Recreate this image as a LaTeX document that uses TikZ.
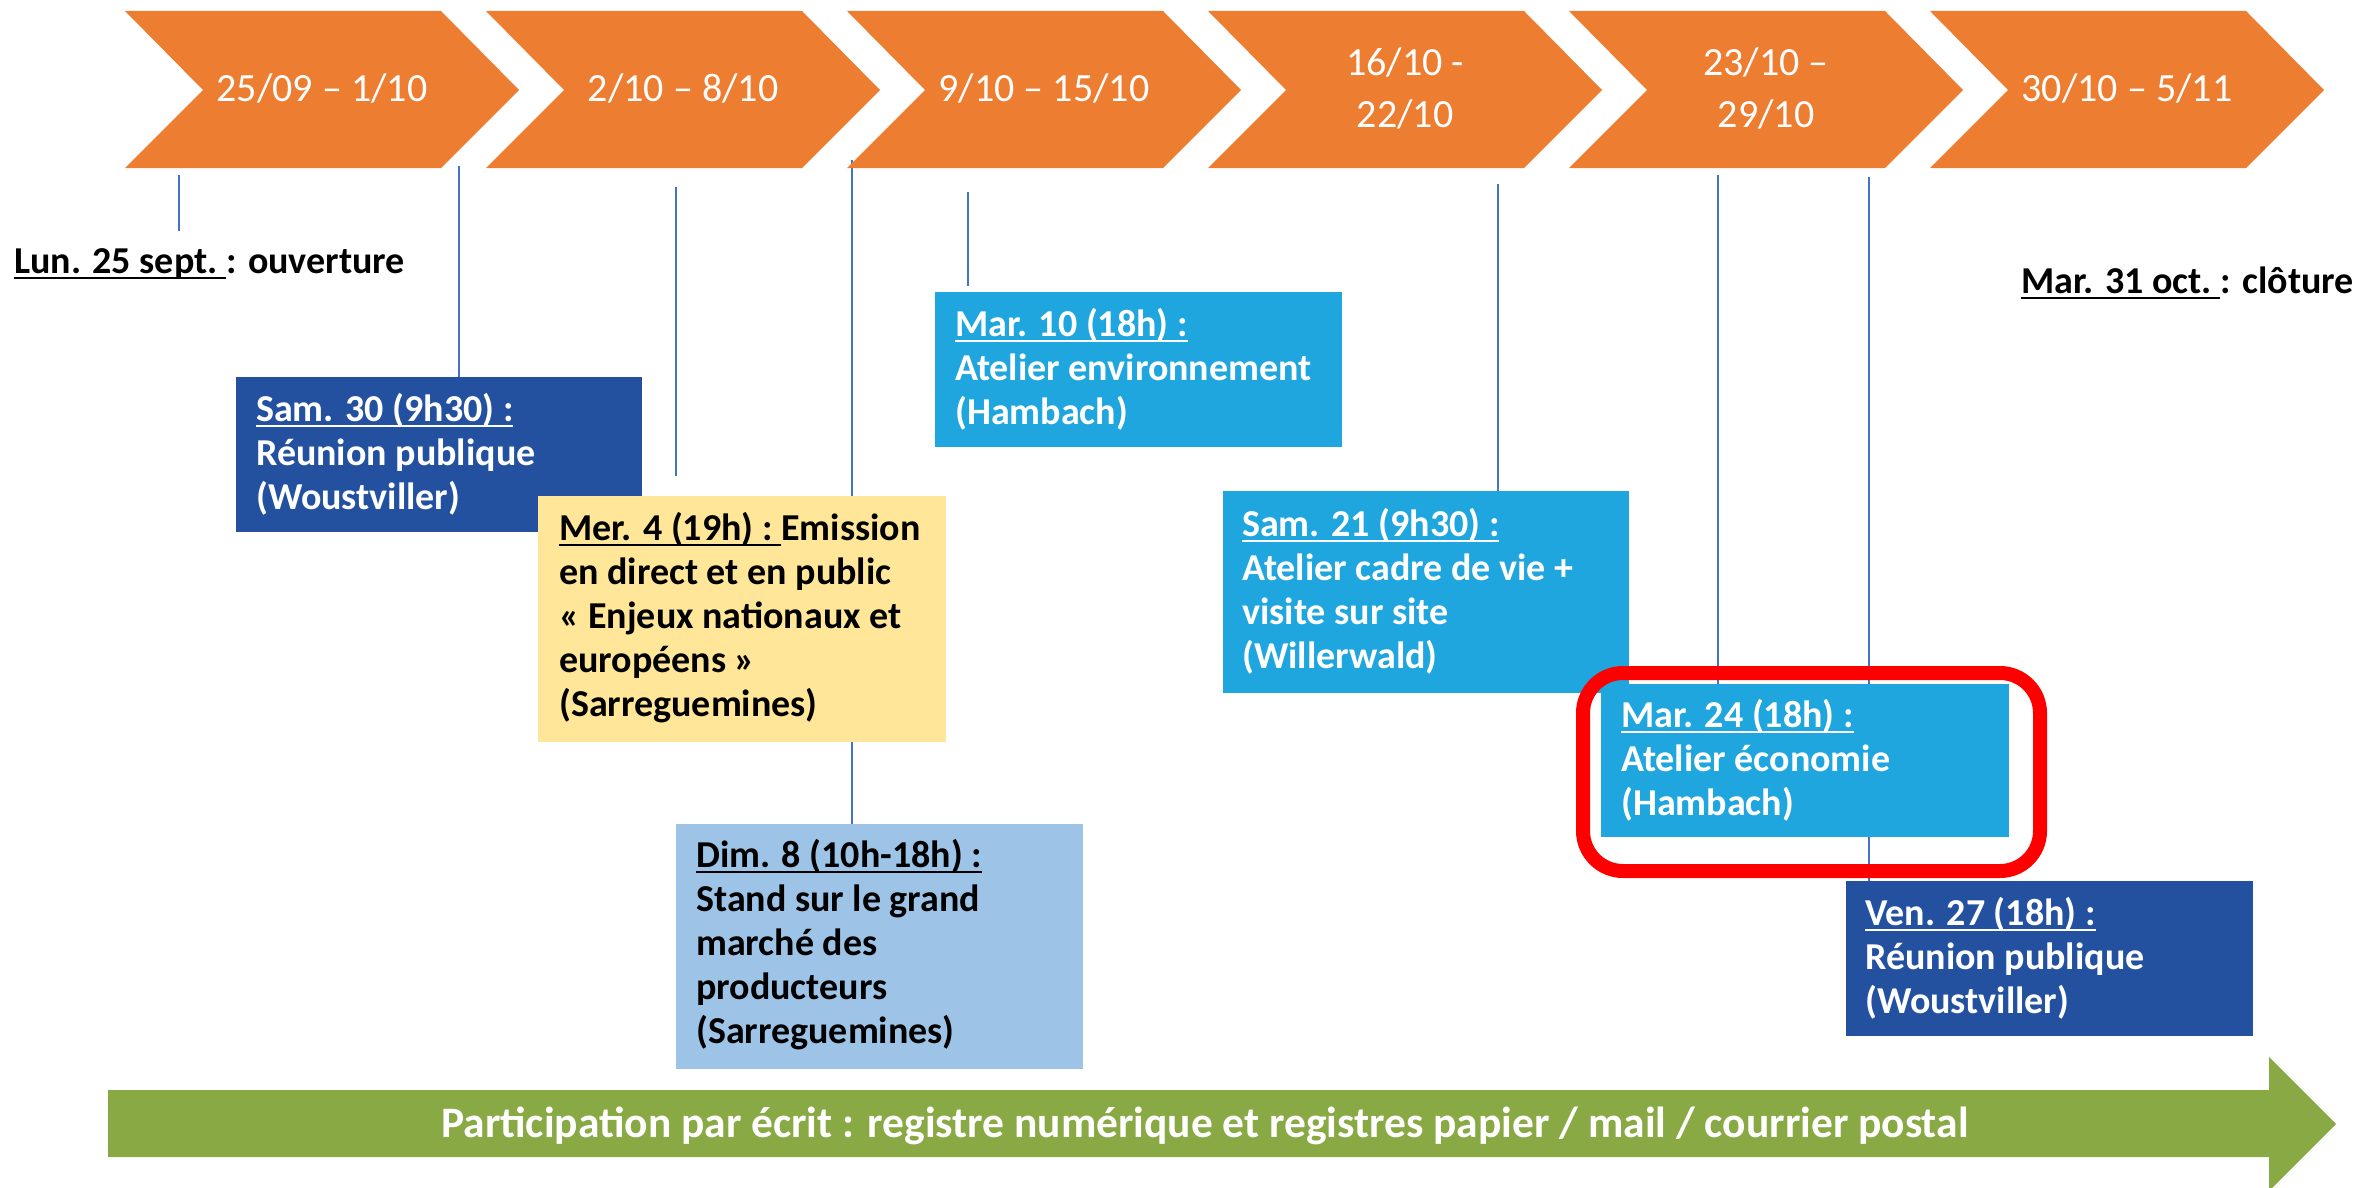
\documentclass[tikz,border=0pt]{standalone}
\usepackage{fontspec}
\setmainfont{Carlito}
\usetikzlibrary{backgrounds}
\definecolor{orng}{HTML}{ED7D31}
\definecolor{dblue}{HTML}{2351A0}
\definecolor{cyanb}{HTML}{1FA6DE}
\definecolor{lblue}{HTML}{9DC3E6}
\definecolor{ylw}{HTML}{FFE699}
\definecolor{grn}{HTML}{88A943}
\definecolor{linec}{HTML}{4472C4}
\definecolor{redc}{HTML}{FF0000}
\newsavebox\ulbox
\newcommand\ulx[1]{\sbox\ulbox{#1}\rlap{\rule[-6pt]{\wd\ulbox}{2.4pt}}\usebox\ulbox}
\newcommand\evfont{\fontsize{38}{44}\selectfont\bfseries}
\newcommand\evlines[1]{\begin{tabular}[t]{@{}l@{}}#1\end{tabular}}
\newcommand\chlines[1]{\begin{tabular}[t]{@{}c@{}}#1\end{tabular}}
\begin{document}
\begin{tikzpicture}[x=1pt,y=-1pt,
  evbox/.style={anchor=north west, inner sep=0pt, outer sep=0pt},
  evtext/.style={anchor=base west, inner sep=0pt, font=\evfont},
  chtext/.style={anchor=base, inner sep=0pt, text=white, font=\fontsize{40}{52}\selectfont},
  connl/.style={draw=linec, line width=1.8pt},
  chev/.style={fill=orng}]
\useasboundingbox (0,0) rectangle (2361,1188);
\clip (0,0) rectangle (2361,1188);

% chevrons
\foreach \i in {0,...,5}{
  \path[chev] ({125+361*\i},11) -- ({441+361*\i},11) -- ({519+361*\i},90) -- ({441+361*\i},168) -- ({125+361*\i},168) -- ({203+361*\i},90) -- cycle;
}
\node[chtext] (w1) at (322,102) {25/09 – 1/10};
\node[chtext] (w2) at (683,102) {2/10 – 8/10};
\node[chtext] (w3) at (1044,102) {9/10 – 15/10};
\node[chtext] (w4) at (1405,76) {\chlines{16/10 -\\22/10}};
\node[chtext] (w5) at (1766,76) {\chlines{23/10 –\\29/10}};
\node[chtext] (w6) at (2127,102) {30/10 – 5/11};

% free texts
\node[evtext] (lun) at (14,273) {\ulx{Lun. 25 sept.\ }: ouverture};
\node[evtext, anchor=base east] (mar31) at (2354,293) {\ulx{Mar. 31 oct.\ }: clôture};

% boxes
\node[evbox, fill=dblue, minimum width=406pt, minimum height=155pt] (b1) at (236,377) {};
\node[evbox, fill=ylw, minimum width=408pt, minimum height=246pt] (b2) at (538,496) {};
\node[evbox, fill=lblue, minimum width=407pt, minimum height=245pt] (b3) at (676,824) {};
\node[evbox, fill=cyanb, minimum width=407pt, minimum height=155pt] (b4) at (935,292) {};
\node[evbox, fill=cyanb, minimum width=406pt, minimum height=202pt] (b5) at (1223,491) {};
\node[evbox, fill=cyanb, minimum width=408pt, minimum height=153pt] (b6) at (1601,684) {};
\node[evbox, fill=dblue, minimum width=407pt, minimum height=155pt] (b7) at (1846,881) {};

\node[evtext, text=white] (t1) at ([shift={(20,44)}]b1.north west)
  {\evlines{\ulx{Sam. 30 (9h30) :}\\Réunion publique\\(Woustviller)}};
\node[evtext, text=black] (t2) at ([shift={(21,44)}]b2.north west)
  {\evlines{\ulx{Mer. 4 (19h) :\ }Emission\\en direct et en public\\« Enjeux nationaux et\\européens »\\(Sarreguemines)}};
\node[evtext, text=black] (t3) at ([shift={(20,43)}]b3.north west)
  {\evlines{\ulx{Dim. 8 (10h-18h) :}\\Stand sur le grand\\marché des\\producteurs\\(Sarreguemines)}};
\node[evtext, text=white] (t4) at ([shift={(20,44)}]b4.north west)
  {\evlines{\ulx{Mar. 10 (18h) :}\\Atelier environnement\\(Hambach)}};
\node[evtext, text=white] (t5) at ([shift={(19,45)}]b5.north west)
  {\evlines{\ulx{Sam. 21 (9h30) :}\\Atelier cadre de vie +\\visite sur site\\(Willerwald)}};
\node[evtext, text=white] (t6) at ([shift={(20,43)}]b6.north west)
  {\evlines{\ulx{Mar. 24 (18h) :}\\Atelier économie\\(Hambach)}};
\node[evtext, text=white] (t7) at ([shift={(19,44)}]b7.north west)
  {\evlines{\ulx{Ven. 27 (18h) :}\\Réunion publique\\(Woustviller)}};

% highlight frame
\node[draw=redc, line width=14pt, rounded corners=40pt, minimum width=457pt, minimum height=198pt, anchor=north west, inner sep=0pt] (hl) at (1576,666) {};

% connectors
\coordinate (c1) at (179,175); \coordinate (c1e) at (179,231);
\coordinate (c2) at (459,166);
\coordinate (c3) at (676,187); \coordinate (c3e) at (676,476);
\coordinate (c4) at (852,160);
\coordinate (c5) at (968,192); \coordinate (c5e) at (968,286);
\coordinate (c6) at (1498,184);
\coordinate (c7) at (1718,175);
\coordinate (c8) at (1869,177);
\begin{pgfonlayer}{background}
\draw[connl] (c1) -- (c1e);
\draw[connl] (c2) -- (c2 |- b1.north);
\draw[connl] (c3) -- (c3e);
\draw[connl] (c4) -- (c4 |- b3.north);
\draw[connl] (c5) -- (c5e);
\draw[connl] (c6) -- (c6 |- b5.north);
\draw[connl] (c7) -- (c7 |- b6.north);
\draw[connl] (c8) -- (c8 |- b7.north);
\end{pgfonlayer}

% participation arrow
\path[fill=grn] (108,1090) -- (2269,1090) -- (2269,1057) -- (2336,1124) -- (2269,1191) -- (2269,1157) -- (108,1157) -- cycle;
\node[anchor=base, inner sep=0pt, text=white, font=\fontsize{43.5}{50}\selectfont\bfseries] (part) at (1205,1137)
  {Participation par écrit : registre numérique et registres papier / mail / courrier postal};
\end{tikzpicture}
\end{document}
